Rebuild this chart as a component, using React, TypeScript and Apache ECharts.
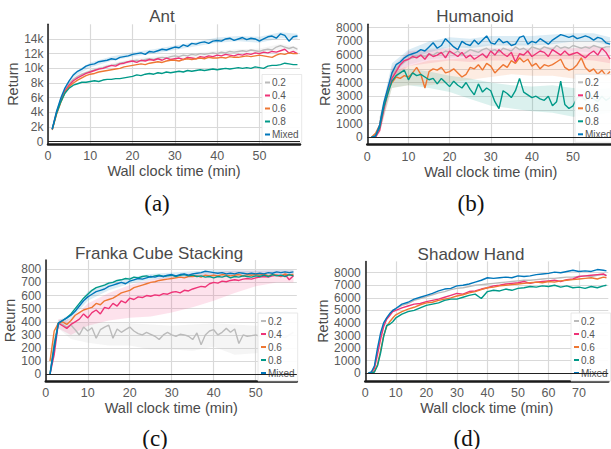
import React, { useEffect, useRef } from "react";
import * as echarts from "echarts";

const FONT = '"Liberation Sans", Arial, sans-serif';
const SERIF = '"Liberation Serif", "Times New Roman", serif';
const NAMES = ["0.2", "0.4", "0.6", "0.8", "Mixed"];
const COLORS = ["#BBBBBB", "#EE3377", "#EE7733", "#009988", "#0077BB"];

// ---------- shared time axis (minutes) ----------
const minutes59 = [1,2,3,4,5,6,7,8,9,10,11,12,13,14,15,16,17,18,19,20,21,22,23,24,25,26,27,28,29,30,31,32,33,34,35,36,37,38,39,40,41,42,43,44,45,46,47,48,49,50,51,52,53,54,55,56,57,58,59];
const bandMinutes = [3,6,10,15,20,25,30,35,40,45,50,55,59];

// ---------- (a) Ant ----------
const ant02 = [1700,4000,5700,7000,7900,8500,8900,9200,9400,9600,9800,10000,10100,10300,10400,10500,10700,10800,10900,11000,11100,11000,11200,11300,11200,11400,11500,11400,11600,11700,11600,11800,11700,11900,11800,12000,11900,12000,12100,12000,12200,12100,12300,12200,12300,12400,12300,12500,12400,12300,12500,12600,12500,12900,13100,12900,12700,12900,12600];
const ant04 = [1700,3900,5500,6900,7700,8300,8700,9000,9300,9500,9700,9900,10000,10200,10400,10300,10600,10700,10900,11000,10800,11100,11000,11200,11100,11300,11100,11400,11200,11300,11400,11200,11500,11400,11300,11600,11500,11700,11600,11800,11700,11900,11800,11700,11900,11800,12000,11900,12100,12000,12200,12100,12300,12200,12400,12600,12100,12300,12000];
const ant06 = [1600,3700,5300,6700,7500,8000,8400,8700,9000,9200,9300,9500,9600,9700,9800,9900,10000,10200,10300,10400,10500,10600,10500,10700,10800,10900,10800,11000,11100,11100,11000,11200,11300,11200,11300,11400,11300,11500,11400,11400,11500,11400,11600,11500,11500,11600,11700,11600,11700,11800,11700,11600,11500,11800,12000,11900,12100,12000,12000];
const ant08 = [1700,3800,5400,6600,7300,7700,7900,8100,8100,8200,8300,8200,8400,8500,8500,8600,8600,8700,8800,8900,9100,9000,9200,9300,9200,9400,9300,9500,9400,9500,9600,9500,9700,9600,9700,9800,9700,9800,9900,9800,9900,10000,9900,10000,10100,10000,10100,10000,10200,10100,10000,10300,10400,10400,10500,10700,10600,10500,10500];
const antMixed = [1700,4100,5900,7300,8300,9100,9600,9900,10300,10500,10600,10900,11000,11100,11300,11200,11500,11600,11700,11900,12000,12100,11900,12300,12200,12400,12600,12500,12700,12900,12800,13200,13000,13400,13300,13500,13600,13400,13700,13800,13700,14000,14100,13800,14000,14200,13900,14100,14000,13700,14000,14300,14400,14100,14700,14500,13700,14300,14400];
const antBand02Lo = [5400,8200,9300,10100,10700,11000,11400,11500,11800,12000,12100,12600,12300];
const antBand02Hi = [6000,8800,9900,10700,11300,11600,12000,12100,12400,12600,12700,13300,12900];
const antBandMixedLo = [5500,8800,10100,11000,11600,12000,12500,13000,13500,13700,13500,14100,14000];
const antBandMixedHi = [6300,9400,10800,11600,12200,12600,13100,13600,14200,14400,14300,14900,14700];
const antXTicks = [0,10,20,30,40,50];
const antYTicks = [0,2000,4000,6000,8000,10000,12000,14000];

// ---------- (b) Humanoid ----------
const hum02 = [0,100,800,2300,3500,4500,5000,5300,5500,5700,5800,5900,6000,5900,6100,6000,6200,6100,6300,6200,6100,6300,6000,6200,6400,6300,6200,6400,6500,6300,6400,6200,6500,6400,6300,6600,6400,6500,6300,6600,6500,6400,6600,6500,6400,6700,6500,6600,6500,6700,6600,6500,6600,6500,6700,6600,6500,6600,6600];
const hum04 = [0,0,500,2000,3300,4300,4800,5300,5600,5700,5900,5800,6000,5700,6100,5900,6000,6200,5800,6300,6100,5900,6200,5800,6000,5700,5900,6100,5800,6300,6000,6400,6100,5900,6200,5500,6100,6000,6300,5900,6100,6300,6200,5900,6400,6200,6000,6300,6000,6100,6200,6000,5800,6100,6300,6000,6500,6200,5700];
const hum06 = [0,300,900,2300,3400,4000,4400,4300,4500,4400,4700,5100,4600,3600,4800,5000,4900,5100,4700,4800,5000,4700,4400,4600,5100,5000,5300,4900,5400,5200,4700,5000,5300,5100,5600,5400,5800,5500,5700,5200,5400,5000,5300,5200,5300,5500,5700,5100,4900,5000,5300,5800,5100,4800,5000,4600,4900,4500,4800];
const hum08 = [0,100,700,2200,3200,4100,4500,4700,4900,4200,4700,4500,4600,4400,4200,4300,3900,4300,4000,3700,4100,3800,3600,4000,3500,3100,3900,3300,3600,3400,2600,2100,3400,3200,2900,3400,4300,3300,3100,2900,3000,2800,2700,3000,2300,2600,4100,2400,2100,2300,2900,3000,2700,3100,2800,2600,3000,2700,2900];
const humMixed = [0,100,900,2500,3600,4700,5300,5500,5800,6000,6100,6200,6400,6300,6600,6900,6500,6700,7200,6900,6600,6400,7000,6800,6700,7100,6800,7100,7400,6900,6800,7200,6900,7000,6700,6800,7300,7400,6800,7000,6900,7200,7000,6800,7100,7300,7500,7400,7300,7400,7200,7300,7400,7300,7100,7300,7200,6900,6800];
const humBand02Lo = [300,4300,5300,5700,5800,5900,6000,6100,6100,6200,6300,6200,6200];
const humBand02Hi = [1400,5200,6200,6500,6600,6700,6800,6900,6800,6900,7000,7000,7000];
const humBand04Lo = [200,4000,5200,5400,5600,5500,5600,5600,5700,5700,5700,5600,5400];
const humBand04Hi = [1200,5000,6300,6400,6500,6400,6500,6500,6500,6600,6500,6700,6500];
const humBand06Lo = [300,3600,3800,3800,4000,4200,4400,4600,4500,4500,4300,4200,4100];
const humBand06Hi = [1500,4800,5200,5600,5700,5800,6000,6200,6100,6100,6200,6000,5800];
const humBand08Lo = [500,3600,3800,3600,3300,2800,2300,2100,1900,1800,1500,1600,1800];
const humBand08Hi = [1200,4800,5000,4800,4500,4300,4000,3800,3700,3800,3600,3500,3600];
const humBandMixedLo = [500,4500,5700,6200,6600,6500,6700,6700,6700,6800,7000,7000,6700];
const humBandMixedHi = [1500,5400,6400,7000,7300,7200,7400,7400,7400,7500,7600,7600,7300];
const humXTicks = [0,10,20,30,40,50];
const humYTicks = [0,1000,2000,3000,4000,5000,6000,7000,8000];

// ---------- (c) Franka Cube Stacking ----------
const fra02 = [0,250,390,380,360,375,340,300,360,330,355,275,340,360,375,275,345,320,340,360,330,310,300,320,305,290,265,300,320,300,290,305,300,290,265,315,225,300,330,340,300,320,350,320,345,235,300,290,295,300,290,300,280,310,300,290,280,300,320];
const fra04 = [0,150,390,370,350,380,400,420,460,430,470,490,460,510,500,540,520,560,545,580,570,590,585,600,595,605,600,615,610,625,630,620,640,635,650,660,670,665,690,700,695,710,705,715,720,715,725,730,725,735,740,745,740,750,755,745,760,720,750];
const fra06 = [100,330,390,400,380,410,450,470,490,500,510,540,530,560,570,580,600,620,630,640,660,670,680,690,700,705,715,720,725,730,735,740,735,745,745,750,740,755,750,755,750,760,755,750,755,760,750,760,755,760,755,765,750,760,755,750,765,755,760];
const fra08 = [0,220,390,410,430,460,500,540,580,610,640,660,670,680,695,700,715,720,730,725,740,735,745,750,740,750,755,745,750,755,745,755,760,750,755,745,750,740,745,735,745,740,750,735,745,740,750,745,740,750,745,755,745,760,750,755,745,760,750];
const fraMixed = [0,200,390,410,430,450,480,520,560,590,610,630,640,650,670,680,690,700,690,710,720,730,725,735,745,740,750,745,755,760,750,760,765,755,765,770,775,785,780,775,770,775,765,770,765,775,770,765,770,765,770,765,775,770,780,775,780,775,780];
const fraBand02Lo = [350,270,240,220,220,190,190,180,210,150,160,180,190];
const fraBand02Hi = [420,400,390,390,390,380,370,380,390,380,370,370,370];
const fraBand04Lo = [350,300,370,410,430,440,470,510,560,620,670,700,700];
const fraBand04Hi = [420,420,540,620,680,720,750,770,780,790,790,790,790];
const fraBandMixedLo = [370,420,560,640,690,720,735,745,755,750,750,755,760];
const fraBandMixedHi = [410,460,630,705,740,765,775,785,795,790,790,795,795];
const fraXTicks = [0,10,20,30,40,50];
const fraYTicks = [0,100,200,300,400,500,600,700,800];

// ---------- (d) Shadow Hand ----------
const shadowX = [1,2,3,4,5,6,7,8,9,10,12,14,16,18,20,22,24,26,28,30,32,34,36,38,40,42,44,46,48,50,52,54,56,58,60,62,64,66,68,70,72,74,76,78,79];
const sh02 = [0,100,500,1800,3000,3900,4400,4700,5000,5150,5400,5550,5800,5950,6100,6250,6400,6500,6650,6750,6800,6900,7000,7050,7100,7150,7200,7250,7300,7350,7400,7400,7450,7500,7550,7550,7600,7650,7650,7700,7750,7700,7800,7850,7800];
const sh04 = [0,50,400,1500,2700,3700,4300,4600,4900,5000,5200,5350,5500,5550,5700,5800,5900,6050,6200,6350,6300,6500,6550,6700,6800,6950,7000,7100,7150,7200,7300,7150,7250,7300,7350,7400,7300,7450,7500,7700,7750,7800,7850,7900,7750];
const sh06 = [0,0,150,700,1800,3000,3700,4100,4400,4650,4900,5100,5250,5450,5600,5650,5800,5900,6000,6150,6250,6400,6500,6650,6800,6850,6950,7000,7050,7100,7150,7200,7250,7200,7300,7250,7350,7400,7450,7500,7550,7600,7500,7650,7600];
const sh08 = [0,0,100,600,1600,2900,3800,3900,4100,4400,4700,4900,5000,5200,5400,5500,5600,5800,5900,5900,6050,6200,6300,5950,6500,6600,6550,6700,6600,6750,6800,6900,6850,6950,6900,7000,6850,6950,6800,6850,6750,6900,6800,6950,7000];
const shMixed = [0,100,600,2000,3200,4000,4400,4750,5000,5150,5500,5650,5900,6050,6200,6350,6550,6700,6750,6950,7000,7100,7250,7400,7600,7550,7600,7650,7600,7750,7700,7750,7850,7900,7950,8050,8000,8100,8200,8100,8150,8100,8250,8200,8150];
const shXTicks = [0,10,20,30,40,50,60,70];
const shYTicks = [0,1000,2000,3000,4000,5000,6000,7000,8000];

// ---------- panels (layout) ----------
const panels = [
  {
    title: "Ant", titleXY: [162, 16], tag: "(a)", tagXY: [157, 203],
    grid: [48, 24.3, 252, 119.6], xMax: 59.6, yMin: -300, yMax: 16000,
    xTicks: antXTicks, yTicks: antYTicks, yFmt: (v: number) => (v === 0 ? "0" : v / 1000 + "k"),
    yNameGap: 22, legendXY: [262, 74.5],
    xs: minutes59, lines: [ant02, ant04, ant06, ant08, antMixed],
    bands: [
      { idx: 0, lo: antBand02Lo, hi: antBand02Hi },
      { idx: 4, lo: antBandMixedLo, hi: antBandMixedHi },
    ],
  },
  {
    title: "Humanoid", titleXY: [475, 16], tag: "(b)", tagXY: [471, 203],
    grid: [367.3, 24.3, 246.9, 119.85], xMax: 60, yMin: -500, yMax: 8250,
    xTicks: humXTicks, yTicks: humYTicks, yFmt: (v: number) => String(v),
    yNameGap: 30, legendXY: [575, 74.3],
    xs: minutes59, lines: [hum02, hum04, hum06, hum08, humMixed],
    bands: [
      { idx: 0, lo: humBand02Lo, hi: humBand02Hi },
      { idx: 1, lo: humBand04Lo, hi: humBand04Hi },
      { idx: 2, lo: humBand06Lo, hi: humBand06Hi },
      { idx: 3, lo: humBand08Lo, hi: humBand08Hi },
      { idx: 4, lo: humBandMixedLo, hi: humBandMixedHi },
    ],
  },
  {
    title: "Franka Cube Stacking", titleXY: [159, 253], tag: "(c)", tagXY: [155, 438],
    grid: [45.8, 260.1, 251, 120.8], xMax: 59.8, yMin: -50, yMax: 870,
    xTicks: fraXTicks, yTicks: fraYTicks, yFmt: (v: number) => String(v),
    yNameGap: 24, legendXY: [258, 313],
    xs: minutes59, lines: [fra02, fra04, fra06, fra08, fraMixed],
    bands: [
      { idx: 0, lo: fraBand02Lo, hi: fraBand02Hi },
      { idx: 1, lo: fraBand04Lo, hi: fraBand04Hi },
      { idx: 4, lo: fraBandMixedLo, hi: fraBandMixedHi },
    ],
  },
  {
    title: "Shadow Hand", titleXY: [471, 254], tag: "(d)", tagXY: [467, 438],
    grid: [365.3, 261.4, 243, 119.4], xMax: 79.6, yMin: -600, yMax: 8900,
    xTicks: shXTicks, yTicks: shYTicks, yFmt: (v: number) => String(v),
    yNameGap: 31, legendXY: [571, 313],
    xs: shadowX, lines: [sh02, sh04, sh06, sh08, shMixed],
    bands: [],
  },
];

function bandSeries(k: number, bx: number[], lo: number[], hi: number[], color: string) {
  const data = bx.map((t, i) => [t, lo[i], hi[i]]);
  return {
    type: "custom",
    xAxisIndex: k,
    yAxisIndex: k,
    silent: true,
    z: 1,
    data,
    renderItem: (params: any, api: any) => {
      if (params.dataIndex !== 0) return null;
      const top = data.map((d) => api.coord([d[0], d[2]]));
      const bot = data.map((d) => api.coord([d[0], d[1]])).reverse();
      return {
        type: "polygon",
        shape: { points: top.concat(bot) },
        style: { fill: color, opacity: 0.14 },
      };
    },
  };
}

export default function App() {
  const ref = useRef<HTMLDivElement>(null);
  useEffect(() => {
    const chart = echarts.init(ref.current!, null, { renderer: "svg" });
    const grids: any[] = [];
    const xAxes: any[] = [];
    const yAxes: any[] = [];
    const series: any[] = [];
    const legends: any[] = [];
    const graphics: any[] = [];
    panels.forEach((p, k) => {
      grids.push({
        left: p.grid[0], top: p.grid[1], width: p.grid[2], height: p.grid[3],
        containLabel: false, outerBoundsMode: "none",
      });
      xAxes.push({
        type: "value", gridIndex: k, min: 0, max: p.xMax,
        name: "Wall clock time (min)", nameLocation: "middle", nameGap: 17,
        nameTextStyle: { fontSize: 14.5, color: "#4a4a4a", fontFamily: FONT },
        axisLine: { show: true, onZero: false, lineStyle: { color: "#1a1a1a", width: 2.5 } },
        axisTick: { show: false, customValues: p.xTicks },
        axisLabel: { customValues: p.xTicks, color: "#5a5a5a", fontSize: 12.5, fontFamily: FONT, margin: 6 },
        splitLine: { show: true, lineStyle: { color: "#d9d9d9", width: 1.2 } },
      });
      yAxes.push({
        type: "value", gridIndex: k, min: p.yMin, max: p.yMax,
        name: "Return", nameLocation: "middle", nameGap: p.yNameGap,
        nameTextStyle: { fontSize: 14.5, color: "#4a4a4a", fontFamily: FONT },
        axisLine: { show: true, onZero: false, lineStyle: { color: "#1a1a1a", width: 1.5 } },
        axisTick: { show: false, customValues: p.yTicks },
        axisLabel: { customValues: p.yTicks, formatter: p.yFmt, color: "#5a5a5a", fontSize: 12, fontFamily: FONT, margin: 4.5 },
        splitLine: { show: true, lineStyle: { color: "#d9d9d9", width: 1.2 } },
      });
      p.bands.forEach((b) => series.push(bandSeries(k, bandMinutes, b.lo, b.hi, COLORS[b.idx])));
      p.lines.forEach((vals, i) => {
        const s: any = {
          type: "line", name: NAMES[i], xAxisIndex: k, yAxisIndex: k,
          data: p.xs.map((t, j) => [t, vals[j]]),
          showSymbol: false, symbol: "none", silent: true, z: 3,
          lineStyle: { width: 1.4, color: COLORS[i] },
          itemStyle: { color: COLORS[i] },
        };
        if (i === 0) {
          s.markLine = {
            silent: true, symbol: "none", label: { show: false },
            lineStyle: { color: "#222", width: 1, type: "solid" },
            data: [{ yAxis: 0 }],
          };
        }
        series.push(s);
      });
      legends.push({
        data: NAMES.map((n) => ({ name: n, icon: "rect" })),
        orient: "vertical", left: p.legendXY[0], top: p.legendXY[1],
        itemWidth: 5, itemHeight: 2, itemGap: 3, padding: [3, 3, 3, 3],
        selectedMode: false,
        backgroundColor: "rgba(255,255,255,0.92)",
        borderColor: "#e2e2e2", borderWidth: 0.8,
        textStyle: { fontSize: 10, lineHeight: 10, color: "#555", fontFamily: FONT, padding: [0, 0, 0, -3] },
      });
      graphics.push({
        type: "text", x: p.titleXY[0], y: p.titleXY[1], z: 10,
        style: { text: p.title, fontSize: 17, fontFamily: FONT, fill: "#4a4a4a", align: "center", verticalAlign: "middle" },
      });
      graphics.push({
        type: "text", x: p.tagXY[0], y: p.tagXY[1], z: 10,
        style: { text: p.tag, fontSize: 23, fontFamily: SERIF, fill: "#111", align: "center", verticalAlign: "middle" },
      });
    });
    chart.setOption({
      animation: false,
      backgroundColor: "#ffffff",
      grid: grids,
      xAxis: xAxes,
      yAxis: yAxes,
      series,
      legend: legends,
      graphic: graphics,
    });
    return () => chart.dispose();
  }, []);
  return (
    <div
      ref={ref}
      style={{ position: "absolute", left: 0, top: 0, width: 611, height: 449, background: "#fff" }}
    />
  );
}
